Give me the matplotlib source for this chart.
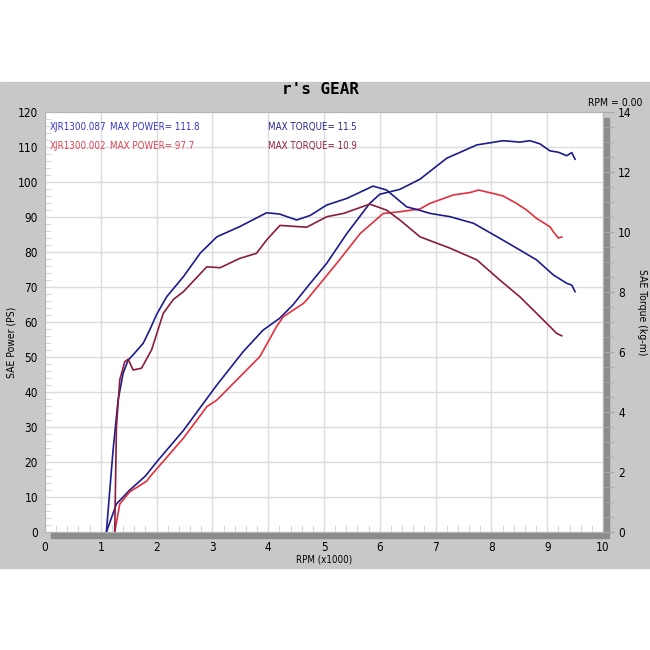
import matplotlib
matplotlib.use("Agg")
import matplotlib.pyplot as plt
from matplotlib.patches import Rectangle
from matplotlib.ticker import MultipleLocator

plt.rcParams["font.family"] = ["DejaVu Sans"]
plt.rcParams["font.stretch"] = "condensed"

# XJR1300.087 (blue)
rpm_b_pw = [1.10, 1.28, 1.52, 1.80, 2.00, 2.48, 2.78, 3.08, 3.55, 3.91, 4.20, 4.45, 4.70,
            5.05, 5.41, 5.82, 6.00, 6.36, 6.72, 7.20, 7.74, 8.21, 8.51, 8.69, 8.87, 9.05,
            9.20, 9.35, 9.44, 9.50]
power_b = [0, 8, 12, 16, 20, 29, 35.5, 42, 51.5, 57.7, 61, 65, 70,
           76.8, 85.3, 93.9, 96.5, 97.9, 100.8, 106.8, 110.6, 111.8, 111.4, 111.8, 110.9, 108.9,
           108.5, 107.5, 108.4, 106.5]

rpm_b_tq = [1.10, 1.22, 1.31, 1.40, 1.49, 1.60, 1.76, 1.88, 2.00, 2.18, 2.48, 2.78, 3.08, 3.49,
            3.97, 4.20, 4.51, 4.75, 5.05, 5.41, 5.88, 6.12, 6.48, 6.72, 6.90, 7.26, 7.68, 8.15,
            8.51, 8.81, 9.11, 9.35, 9.44, 9.50]
torque_b = [0, 2.73, 4.4, 5.29, 5.73, 5.95, 6.29, 6.75, 7.25, 7.84, 8.51, 9.29, 9.84, 10.18,
            10.64, 10.6, 10.4, 10.55, 10.9, 11.12, 11.53, 11.4, 10.84, 10.72, 10.62, 10.51, 10.29, 9.79,
            9.4, 9.07, 8.57, 8.29, 8.23, 8.01]

# XJR1300.002 (red)
rpm_r_pw = [1.25, 1.34, 1.52, 1.82, 1.88, 2.48, 2.90, 3.08, 3.67, 3.85, 4.15, 4.27, 4.63,
            4.69, 5.23, 5.65, 6.06, 6.36, 6.72, 6.90, 7.32, 7.62, 7.77, 8.09, 8.21, 8.45,
            8.63, 8.81, 9.05, 9.11, 9.20, 9.26]
power_r = [0, 8, 11.5, 14.5, 15.8, 26.8, 35.8, 37.7, 47.2, 50.1, 58.7, 61.5, 65.3,
           66.3, 76.8, 85.3, 91, 91.5, 92.3, 93.9, 96.3, 97, 97.7, 96.5, 96, 93.9,
           92, 89.6, 87.2, 85.8, 84.0, 84.3]

rpm_r_tq = [1.25, 1.28, 1.34, 1.43, 1.49, 1.58, 1.73, 1.91, 2.12, 2.30, 2.48, 2.90, 3.14, 3.49,
            3.79, 3.97, 4.21, 4.69, 5.05, 5.35, 5.82, 6.12, 6.36, 6.72, 7.26, 7.74, 8.15,
            8.51, 8.87, 9.17, 9.26]
torque_r = [0, 3.5, 5.07, 5.68, 5.76, 5.4, 5.46, 6.07, 7.29, 7.75, 8.01, 8.84, 8.81, 9.12,
            9.29, 9.73, 10.22, 10.16, 10.51, 10.62, 10.93, 10.73, 10.4, 9.84, 9.46, 9.07, 8.4,
            7.84, 7.18, 6.62, 6.54]

fig = plt.figure(figsize=(6.5, 6.5), dpi=100)
W = H = 650.0

# gray panel and drop shadow behind the plot area
fig.patches.append(Rectangle((0, 1 - 568 / H), 1, (568 - 82) / H,
                             transform=fig.transFigure, color="#c8c8c8", zorder=-10))
fig.patches.append(Rectangle((51 / W, 1 - 538 / H), 558 / W, 420 / H,
                             transform=fig.transFigure, color="#8c8c8c", zorder=-9))

ax = fig.add_axes([45 / W, 1 - 532 / H, 558 / W, 420 / H])
ax.set_facecolor("white")
ax.set_xlim(0, 10)
ax.set_ylim(0, 120)
ax.xaxis.set_major_locator(MultipleLocator(1))
ax.xaxis.set_minor_locator(MultipleLocator(0.2))
ax.yaxis.set_major_locator(MultipleLocator(10))
ax.yaxis.set_minor_locator(MultipleLocator(2))
ax.grid(True, which="major", color="#dcdcdc", lw=1)
ax.tick_params(axis="both", which="both", direction="in", color="#d0d0d0", labelsize=8.5)
ax.tick_params(axis="x", which="major", length=0, pad=6.5)
ax.tick_params(axis="x", which="minor", length=5)
ax.tick_params(axis="y", which="major", length=0, pad=5)
ax.tick_params(axis="y", which="minor", length=4)
for s in ax.spines.values():
    s.set_color("#b4b4b4")
    s.set_linewidth(0.8)

ax2 = ax.twinx()
ax2.set_ylim(0, 14)
ax2.yaxis.set_major_locator(MultipleLocator(2))
ax2.yaxis.set_minor_locator(MultipleLocator(0.5))
ax2.tick_params(axis="y", which="both", direction="out", color="#a8a8a8", labelsize=8.5)
ax2.tick_params(axis="y", which="major", length=8, pad=3)
ax2.tick_params(axis="y", which="minor", length=8)
for s in ax2.spines.values():
    s.set_visible(False)

navy = "#1c1c8c"
kw = dict(lw=1.2, solid_joinstyle="round")
ax.plot(rpm_b_pw, power_b, color=navy, **kw)
ax.plot(rpm_r_pw, power_r, color="#e0303e", **kw)
ax2.plot(rpm_b_tq, torque_b, color=navy, **kw)
ax2.plot(rpm_r_tq, torque_r, color="#8a1c3c", **kw)

# header text inside the plot
ax.text(0.09, 115.7, "XJR1300.087", color="#3535c8", fontsize=7, va="center")
ax.text(1.16, 115.7, "MAX POWER= 111.8", color="#3535c8", fontsize=7, va="center")
ax.text(4.0, 115.7, "MAX TORQUE= 11.5", color="#25258c", fontsize=7, va="center")
ax.text(0.09, 110.3, "XJR1300.002", color="#e04050", fontsize=7, va="center")
ax.text(1.16, 110.3, "MAX POWER= 97.7", color="#e04050", fontsize=7, va="center")
ax.text(4.0, 110.3, "MAX TORQUE= 10.9", color="#902040", fontsize=7, va="center")

fig.text(320 / W, 1 - 90 / H, "r's GEAR", family="DejaVu Sans Mono", fontweight="bold",
         fontsize=11.5, ha="center", va="center")
fig.text(642 / W, 1 - 103 / H, "RPM = 0.00", fontsize=7.5, ha="right", va="center")
fig.text(324 / W, 1 - 560 / H, "RPM (x1000)", fontsize=7, ha="center", va="center")
fig.text(12 / W, 1 - 342 / H, "SAE Power (PS)", fontsize=7.5, rotation=90,
         ha="center", va="center")
fig.text(642 / W, 1 - 312 / H, "SAE Torque (kg-m)", fontsize=7.5, rotation=-90,
         ha="center", va="center")

fig.savefig("out.png", dpi=100, facecolor="white")
